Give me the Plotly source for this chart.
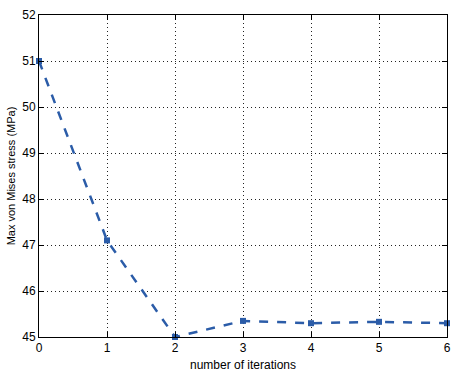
import plotly.graph_objects as go

iterations = [0, 1, 2, 3, 4, 5, 6]
max_stress = [51.0, 47.1, 45.0, 45.35, 45.3, 45.33, 45.3]
x_ticks = [0, 1, 2, 3, 4, 5, 6]
y_ticks = [45, 46, 47, 48, 49, 50, 51, 52]

fig = go.Figure()
fig.add_trace(go.Scatter(
    x=iterations, y=max_stress, mode="lines+markers",
    line=dict(color="#2b5ca8", width=2.5, dash="dash"),
    marker=dict(color="#2b5ca8", size=6, symbol="square"),
    showlegend=False, cliponaxis=False,
))
axis_common = dict(
    showline=True, linecolor="black", linewidth=1, mirror="ticks",
    ticks="inside", ticklen=5, tickcolor="black", automargin=False,
    showgrid=True, gridcolor="#222222", gridwidth=1, griddash="1px,3px",
    zeroline=False, tickfont=dict(family="Liberation Sans, Arial", size=12, color="black"),
)
fig.update_xaxes(range=[0, 6], tickvals=x_ticks,
                 title=dict(text="number of iterations", standoff=6,
                            font=dict(family="Liberation Sans, Arial", size=12, color="black")),
                 **axis_common)
fig.update_yaxes(range=[45, 52], tickvals=y_ticks,
                 title=dict(text="Max von Mises stress (MPa)", standoff=4,
                            font=dict(family="Liberation Sans, Arial", size=11, color="black")),
                 **axis_common)
fig.update_layout(
    width=452, height=378,
    margin=dict(l=39, r=5, t=15, b=41),
    paper_bgcolor="white", plot_bgcolor="white",
)
fig.write_html("out.html", config={"displayModeBar": False},
               post_script="document.body.style.margin='0px';document.body.style.overflow='hidden';")
